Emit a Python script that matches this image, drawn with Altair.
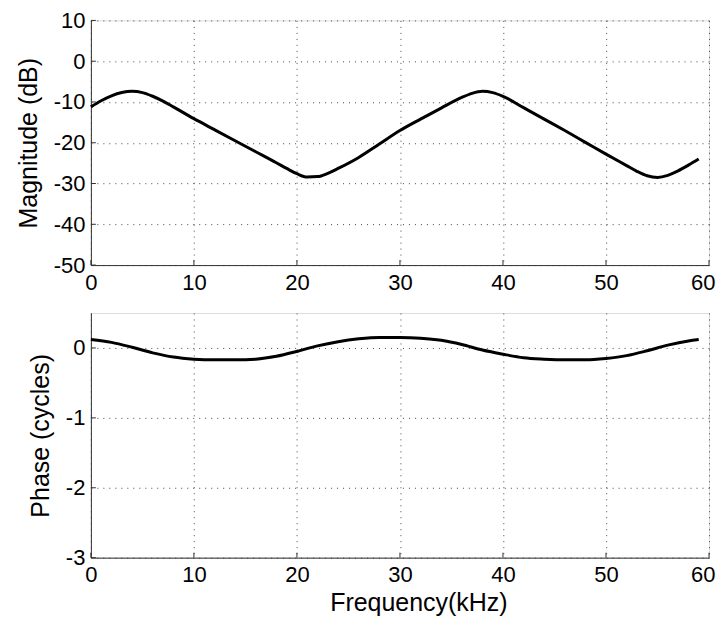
import altair as alt
import pandas as pd

# ---- data ----
freq_mag = [0, 1, 2, 3, 4, 5, 6, 7, 8, 10, 12, 14, 16, 18, 19, 20, 21, 22, 23, 24, 26, 28, 30,
            32, 34, 36, 37, 38, 39, 40, 42, 44, 46, 48, 50, 52, 53, 54, 55, 56, 57, 58, 59]
mag_db = [-11.2, -9.7, -8.5, -7.7, -7.4, -7.7, -8.6, -9.8, -11.2, -14.1, -16.8, -19.5, -22.2,
          -24.9, -26.3, -27.6, -28.4, -28.3, -27.5, -26.3, -23.6, -20.3, -17.0, -14.2, -11.5,
          -8.9, -7.9, -7.4, -7.7, -8.6, -11.4, -14.2, -17.0, -19.9, -22.8, -25.6, -27.0, -28.1,
          -28.5, -28.0, -26.9, -25.5, -24.0]

freq_ph = [0, 2, 4, 6, 8, 10, 12, 14, 16, 18, 20, 22, 24, 26, 28, 30, 32, 34, 36, 38, 40, 42,
           44, 46, 48, 50, 52, 54, 56, 58, 59]
phase_cyc = [0.12, 0.08, 0.01, -0.07, -0.13, -0.16, -0.17, -0.17, -0.16, -0.12, -0.05, 0.03,
             0.09, 0.13, 0.15, 0.15, 0.14, 0.11, 0.05, -0.03, -0.09, -0.14, -0.16, -0.17, -0.17,
             -0.15, -0.11, -0.04, 0.04, 0.10, 0.12]

x_ticks = [0, 10, 20, 30, 40, 50, 60]
mag_ticks = [-50, -40, -30, -20, -10, 0, 10]
ph_ticks = [-3, -2, -1, 0]

mag_df = pd.DataFrame({"f": freq_mag, "v": mag_db})
ph_df = pd.DataFrame({"f": freq_ph, "v": phase_cyc})
xt_df = pd.DataFrame({"t": x_ticks})
mt_df = pd.DataFrame({"t": mag_ticks})
pt_df = pd.DataFrame({"t": ph_ticks})

W = 619
H = 245
FONT = "Liberation Sans"

common = dict(
    grid=True, gridColor="#333333", gridDash=[1, 5], gridWidth=1, gridOpacity=0.9,
    domainColor="#333333", domainWidth=1, ticks=False, labelFlush=False,
    labelFont=FONT, labelFontSize=22, labelColor="black",
    labelExpr="'' + datum.value",
    titleFont=FONT, titleFontSize=25, titleFontWeight="normal", titleColor="black",
)


def panel(df, ticks_df, y_domain, y_ticks, y_title, x_title):
    xs = alt.Scale(domain=[0, 60], nice=False, zero=False)
    ys = alt.Scale(domain=y_domain, nice=False, zero=False)
    x_axis_kw = dict(
        common, values=x_ticks, labelPadding=7,
        labelAlign={"condition": {"test": "datum.value == 60", "value": "right"},
                    "value": "center"},
        labelOffset={"condition": {"test": "datum.value == 60", "value": 6},
                     "value": 0},
    )
    if x_title:
        x_axis_kw.update(title=x_title, titlePadding=5, titleX=328)
    else:
        x_axis_kw.update(title=None)
    y_axis = alt.Axis(**common, values=y_ticks, labelPadding=6, title=y_title,
                      titlePadding=12)
    line = alt.Chart(df).mark_line(color="black", strokeWidth=3,
                                   interpolate="monotone").encode(
        x=alt.X("f:Q", scale=xs, axis=alt.Axis(**x_axis_kw)),
        y=alt.Y("v:Q", scale=ys, axis=y_axis),
    )
    xticks = alt.Chart(xt_df).mark_rule(color="#333333", strokeWidth=1).encode(
        x=alt.X("t:Q", scale=xs), y=alt.value(H), y2=alt.value(H - 5)
    )
    yticks = alt.Chart(ticks_df).mark_rule(color="#333333", strokeWidth=1).encode(
        y=alt.Y("t:Q", scale=ys), x=alt.value(0), x2=alt.value(5)
    )
    return alt.layer(line, xticks, yticks).properties(width=W, height=H)


top = panel(mag_df, mt_df, [-50, 10], mag_ticks, "Magnitude (dB)", None)
bottom = panel(ph_df, pt_df, [-3, 0.5], ph_ticks, "Phase (cycles)", "Frequency(kHz)")

chart = alt.vconcat(top, bottom, spacing=18).properties(
    padding={"left": 7, "top": 0, "right": 0, "bottom": 0}
).configure_view(stroke=None).configure(background="white")

chart.save("out.html", embed_options={"renderer": "svg", "actions": False})
